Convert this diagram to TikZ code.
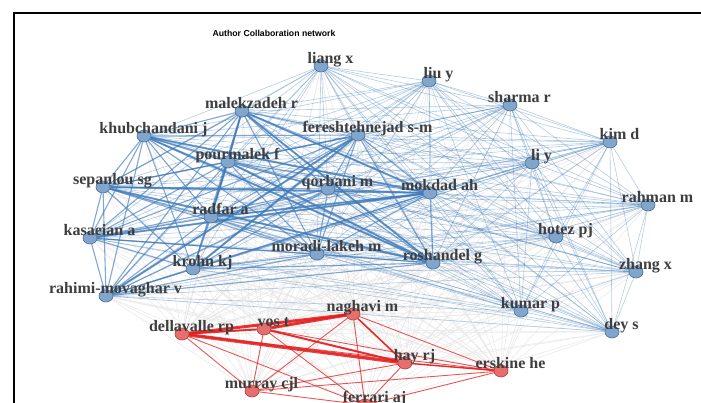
\documentclass[tikz,border=0pt]{standalone}
\usepackage{fontspec}
\setmainfont{Liberation Serif}
\newfontfamily\titlefont{Liberation Sans}
\usetikzlibrary{shapes.geometric}
\definecolor{bedge}{RGB}{62,122,186}
\definecolor{redge}{RGB}{228,30,30}
\definecolor{bfill}{RGB}{128,166,206}
\definecolor{bdraw}{RGB}{72,108,148}
\definecolor{rfill}{RGB}{232,110,110}
\definecolor{rdraw}{RGB}{170,62,62}
\definecolor{lbltxt}{RGB}{62,62,62}
\pgfdeclarelayer{back}
\pgfdeclarelayer{bg}
\pgfsetlayers{back,bg,main}
\tikzset{
  bnode/.style={ellipse,draw=bdraw,fill=bfill,line width=0.6pt,minimum width=14pt,minimum height=12pt,inner sep=0pt},
  rnode/.style={ellipse,draw=rdraw,fill=rfill,line width=0.6pt,minimum width=14pt,minimum height=12pt,inner sep=0pt},
  lbl/.style={anchor=base,inner sep=0pt,text=lbltxt,font=\bfseries\fontsize{16}{17}\selectfont},
  grayedge/.style={draw=black!9,line width=0.5pt},
  coreedge/.style={draw=bedge,line width=1.1pt,opacity=0.65},
  outeredge/.style={draw=bedge,line width=0.6pt,opacity=0.38},
  redthin/.style={draw=redge,line width=0.9pt,opacity=0.75},
  redthick/.style={draw=redge,line width=#1,opacity=0.85},
  frameline/.style={draw=black,line width=2.2pt}
}
\newcommand\bnd[3]{\node[bnode] (#1) at (#2) {}; \node[lbl] (#1-l) at ([xshift=9.5pt,yshift=2.5pt]#1.center) {#3};}
\newcommand\rnd[3]{\node[rnode] (#1) at (#2) {}; \node[lbl] (#1-l) at ([xshift=9.5pt,yshift=2.5pt]#1.center) {#3};}
\begin{document}
\begin{tikzpicture}[x=1pt,y=-1pt]
\useasboundingbox (0,0) rectangle (701,403);
\clip (0,0) rectangle (701,403);
\begin{pgfonlayer}{back}
\fill[white] (0,0) rectangle (701,403);
\end{pgfonlayer}
% nodes
\bnd{liang}{321,66}{liang x}
\bnd{liu}{429,81}{liu y}
\bnd{sharma}{510,105}{sharma r}
\bnd{kim}{610,142}{kim d}
\bnd{liy}{532,163}{li y}
\bnd{rahman}{648,205}{rahman m}
\bnd{hotez}{556,237}{hotez pj}
\bnd{zhang}{636,272}{zhang x}
\bnd{dey}{612,332}{dey s}
\bnd{kumar}{521,311}{kumar p}
\bnd{rosh}{433,263}{roshandel g}
\bnd{mokdad}{430,193}{mokdad ah}
\bnd{feresh}{358,135}{fereshtehnejad s-m}
\bnd{qorb}{328,189}{qorbani m}
\bnd{moradi}{317,254}{moradi-lakeh m}
\bnd{pour}{228,162}{pourmalek f}
\bnd{malek}{242,111}{malekzadeh r}
\bnd{khub}{144,136}{khubchandani j}
\bnd{sepan}{103,187}{sepanlou sg}
\bnd{radfar}{211,217}{radfar a}
\bnd{kasa}{90,238}{kasaeian a}
\bnd{krohn}{193,269}{krohn kj}
\bnd{rahimi}{106,296}{rahimi-movaghar v}
\rnd{naghavi}{353,314}{naghavi m}
\rnd{vos}{264,329}{vos t}
\rnd{della}{182,334}{dellavalle rp}
\rnd{hay}{405,363}{hay rj}
\rnd{erskine}{501,371}{erskine he}
\rnd{murray}{252,391}{murray cjl}
\rnd{ferrari}{365,405}{ferrari aj}
% title
\node[anchor=base,inner sep=0pt,font=\titlefont\bfseries\fontsize{8.7}{10}\selectfont] (title) at (274,36.5) {Author Collaboration network};
% frame
\coordinate (fbl) at (14,410);
\coordinate (ftl) at (14,13);
\coordinate (ftr) at (710,13);
\draw[frameline] (fbl) -- (ftl) -- (ftr);
% edges
\begin{pgfonlayer}{bg}
\foreach \a in {naghavi,vos,della,hay,erskine,murray,ferrari}{
  \foreach \b in {liang,liu,sharma,kim,liy,rahman,hotez,zhang,dey,kumar,rosh,mokdad,feresh,qorb,moradi,pour,malek,khub,sepan,radfar,kasa,krohn,rahimi}{
    \draw[grayedge] (\a) -- (\b);
  }
}
\foreach \a [count=\i] in {liang,liu,sharma,kim,liy,rahman,hotez,zhang,dey,kumar}{
  \foreach \b [count=\j] in {liang,liu,sharma,kim,liy,rahman,hotez,zhang,dey,kumar}{
    \ifnum\j>\i \draw[outeredge] (\a) -- (\b); \fi
  }
  \foreach \b in {rosh,mokdad,feresh,qorb,moradi,pour,malek,khub,sepan,radfar,kasa,krohn,rahimi}{
    \draw[outeredge] (\a) -- (\b);
  }
}
\foreach \a [count=\i] in {rosh,mokdad,feresh,qorb,moradi,pour,malek,khub,sepan,radfar,kasa,krohn,rahimi}{
  \foreach \b [count=\j] in {rosh,mokdad,feresh,qorb,moradi,pour,malek,khub,sepan,radfar,kasa,krohn,rahimi}{
    \ifnum\j>\i \draw[coreedge] (\a) -- (\b); \fi
  }
}
\foreach \a/\b in {malek/rosh,khub/mokdad,sepan/rosh,kasa/mokdad,rahimi/feresh,pour/rosh,malek/radfar,feresh/krohn,khub/rosh,malek/mokdad,sepan/mokdad,radfar/mokdad}{
  \draw[coreedge,line width=2pt] (\a) -- (\b);
}
\foreach \a [count=\i] in {naghavi,vos,della,hay,erskine,murray,ferrari}{
  \foreach \b [count=\j] in {naghavi,vos,della,hay,erskine,murray,ferrari}{
    \ifnum\j>\i \draw[redthin] (\a) -- (\b); \fi
  }
}
\draw[redthick=3pt] (della) -- (naghavi);
\draw[redthick=3.5pt] (della) -- (hay);
\draw[redthick=3pt] (vos) -- (naghavi);
\draw[redthick=2pt] (della) -- (vos);
\draw[redthick=2pt] (vos) -- (hay);
\draw[redthick=1.6pt] (naghavi) -- (hay);
\draw[redthick=1.4pt] (hay) -- (erskine);
\end{pgfonlayer}
\end{tikzpicture}
\end{document}
